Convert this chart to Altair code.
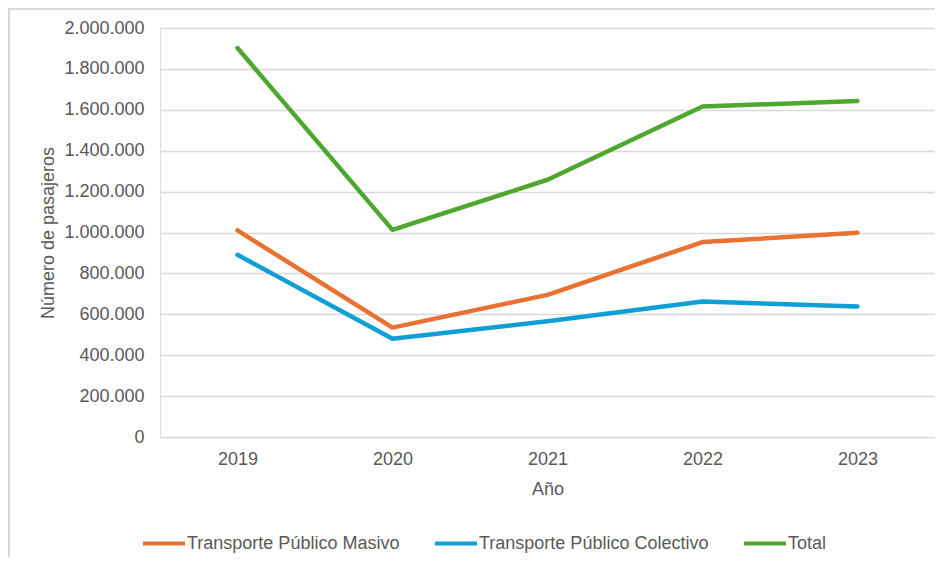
import altair as alt
import pandas as pd

years = ["2019", "2020", "2021", "2022", "2023"]
masivo = [1010000, 535000, 695000, 953000, 999000]
colectivo = [891000, 480000, 566000, 663000, 638000]
total = [1902000, 1013000, 1258000, 1616000, 1643000]

series_names = ["Transporte Público Masivo", "Transporte Público Colectivo", "Total"]
series_colors = ["#E97132", "#0F9ED5", "#4EA72E"]
y_ticks = [0, 200000, 400000, 600000, 800000, 1000000, 1200000, 1400000, 1600000, 1800000, 2000000]

rows = []
for name, vals in zip(series_names, [masivo, colectivo, total]):
    for yr, v in zip(years, vals):
        rows.append({"Año": yr, "Serie": name, "Pasajeros": v})
df = pd.DataFrame(rows)

W, H = 775, 409
FONT = "Liberation Sans"
GRAY = "#595959"

lines = alt.Chart(df).mark_line(strokeWidth=4.5, strokeCap="round", strokeJoin="round").encode(
    x=alt.X("Año:N", sort=years,
            scale=alt.Scale(type="point", padding=0.5),
            axis=alt.Axis(title="Año", domain=False, ticks=False, grid=False,
                          labelAngle=0, labelFontSize=18, labelColor=GRAY, labelFont=FONT,
                          labelPadding=13, titleFontSize=18, titleFont=FONT,
                          titleFontWeight="normal", titleColor=GRAY, titlePadding=12)),
    y=alt.Y("Pasajeros:Q",
            scale=alt.Scale(domain=[0, 2000000], nice=False),
            axis=alt.Axis(title="Número de pasajeros", values=y_ticks,
                          labelExpr="replace(format(datum.value, ','), /,/g, '.')",
                          domain=False, ticks=False, grid=True, gridColor="#D9D9D9",
                          gridWidth=1.5, labelFontSize=18, labelColor=GRAY, labelFont=FONT,
                          labelPadding=16, titleFontSize=18, titleFont=FONT,
                          titleFontWeight="normal", titleColor=GRAY,
                          titleX=-112, titleY=204.5, titleBaseline="middle", titleAlign="center")),
    color=alt.Color("Serie:N",
                    scale=alt.Scale(domain=series_names, range=series_colors),
                    legend=alt.Legend(title=None, orient="none", legendX=-19, legendY=492.5,
                                      direction="horizontal", symbolType="stroke",
                                      symbolSize=1764, symbolStrokeWidth=4,
                                      labelFontSize=18, labelFont=FONT, labelColor=GRAY,
                                      labelOffset=0, labelLimit=0, columnPadding=27, padding=0)),
)

border_left = alt.Chart(df).mark_rule(color="#D9D9D9", strokeWidth=1.5).encode(
    x=alt.value(-151), y=alt.value(-20), y2=alt.value(560)
)
border_top = alt.Chart(df).mark_rule(color="#D9D9D9", strokeWidth=1.5).encode(
    y=alt.value(-19.5), x=alt.value(-151), x2=alt.value(800)
)

chart = alt.layer(border_left, border_top, lines).properties(
    width=W, height=H,
    autosize=alt.AutoSizeParams(type="none"),
    padding={"left": 152, "top": 20, "right": 0, "bottom": 120},
).configure_view(stroke=None).configure(background="white")

chart.save("out.html", embed_options={"renderer": "svg", "actions": False})
